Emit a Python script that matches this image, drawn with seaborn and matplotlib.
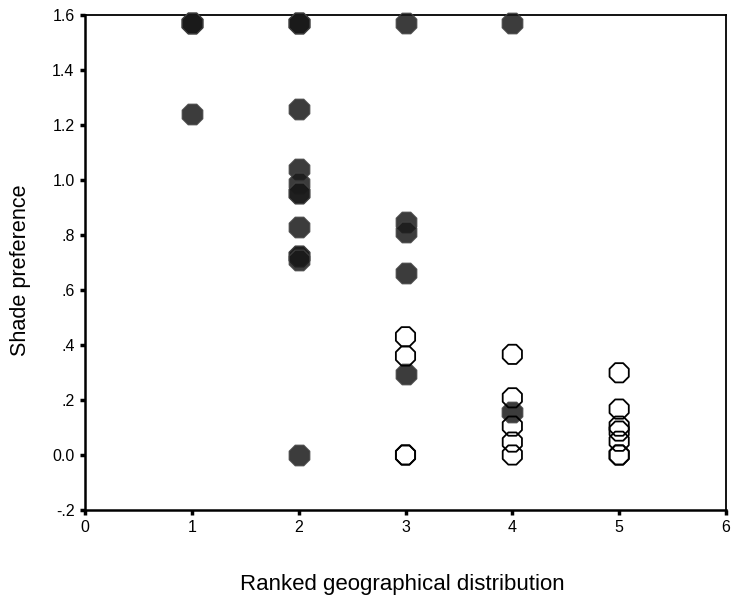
import matplotlib
matplotlib.use("Agg")
import matplotlib.pyplot as plt
import seaborn as sns
import pandas as pd

# Filled symbols (shade-tolerant group)
filled_rank = [1, 1, 1, 1,
               2, 2, 2, 2, 2, 2, 2, 2, 2, 2, 2, 2, 2,
               3, 3, 3, 3, 3,
               4, 4]
filled_pref = [1.5708, 1.5708, 1.5708, 1.239,
               1.5708, 1.5708, 1.5708, 1.257, 1.041, 0.990, 0.954, 0.954,
               0.830, 0.724, 0.724, 0.710, 0.0,
               1.5708, 0.847, 0.810, 0.663, 0.293,
               1.5708, 0.156]

# Open symbols
open_rank = [3, 3, 3, 3,
             4, 4, 4, 4, 4,
             5, 5, 5, 5, 5, 5, 5]
open_pref = [0.430, 0.360, 0.0, 0.0,
             0.366, 0.208, 0.105, 0.047, 0.0,
             0.299, 0.167, 0.105, 0.087, 0.050, 0.0, 0.0]

x_ticks = [0, 1, 2, 3, 4, 5, 6]
y_ticks = [-0.2, 0.0, 0.2, 0.4, 0.6, 0.8, 1.0, 1.2, 1.4, 1.6]
y_tick_labels = ["-.2", "0.0", ".2", ".4", ".6", ".8", "1.0", "1.2", "1.4", "1.6"]

sns.set_style("white")
plt.rcParams["font.family"] = ["Liberation Sans", "DejaVu Sans"]

filled_df = pd.DataFrame({"rank": filled_rank, "pref": filled_pref})
open_df = pd.DataFrame({"rank": open_rank, "pref": open_pref})

fig = plt.figure(figsize=(7.32, 5.96), dpi=100)
ax = fig.add_axes([85 / 732, 1 - 510 / 596, (726 - 85) / 732, (510 - 15) / 596])

sns.scatterplot(data=filled_df, x="rank", y="pref", ax=ax, marker="8", s=260,
                color="#1a1a1a", alpha=0.85, edgecolor="#444444", linewidth=0.8,
                clip_on=False, zorder=3)
sns.scatterplot(data=open_df, x="rank", y="pref", ax=ax, marker="8", s=225,
                facecolor="none", edgecolor="black", linewidth=1.3,
                clip_on=False, zorder=3)

ax.set_xlim(0, 6)
ax.set_ylim(-0.2, 1.6)
ax.set_xticks(x_ticks)
ax.set_xticklabels([str(t) for t in x_ticks])
ax.set_yticks(y_ticks)
ax.set_yticklabels(y_tick_labels)

ax.tick_params(axis="both", direction="out", length=3.5, width=2.5,
               color="black", labelsize=11.5, labelcolor="black",
               bottom=True, left=True, top=False, right=False)
ax.tick_params(axis="x", pad=4)
ax.tick_params(axis="y", pad=4)

for side in ["left", "bottom"]:
    ax.spines[side].set_linewidth(1.8)
for side in ["top", "right"]:
    ax.spines[side].set_linewidth(1.3)
for sp in ax.spines.values():
    sp.set_color("black")
    sp.set_visible(True)

ax.set_xlabel("Ranked geographical distribution", fontsize=16, labelpad=28,
              color="black")
ax.set_ylabel("Shade preference", fontsize=15.6, labelpad=15, color="black")
ax.xaxis.label.set_x(0.4945)
ax.yaxis.label.set_y(0.485)

fig.savefig("out.png", dpi=100)
